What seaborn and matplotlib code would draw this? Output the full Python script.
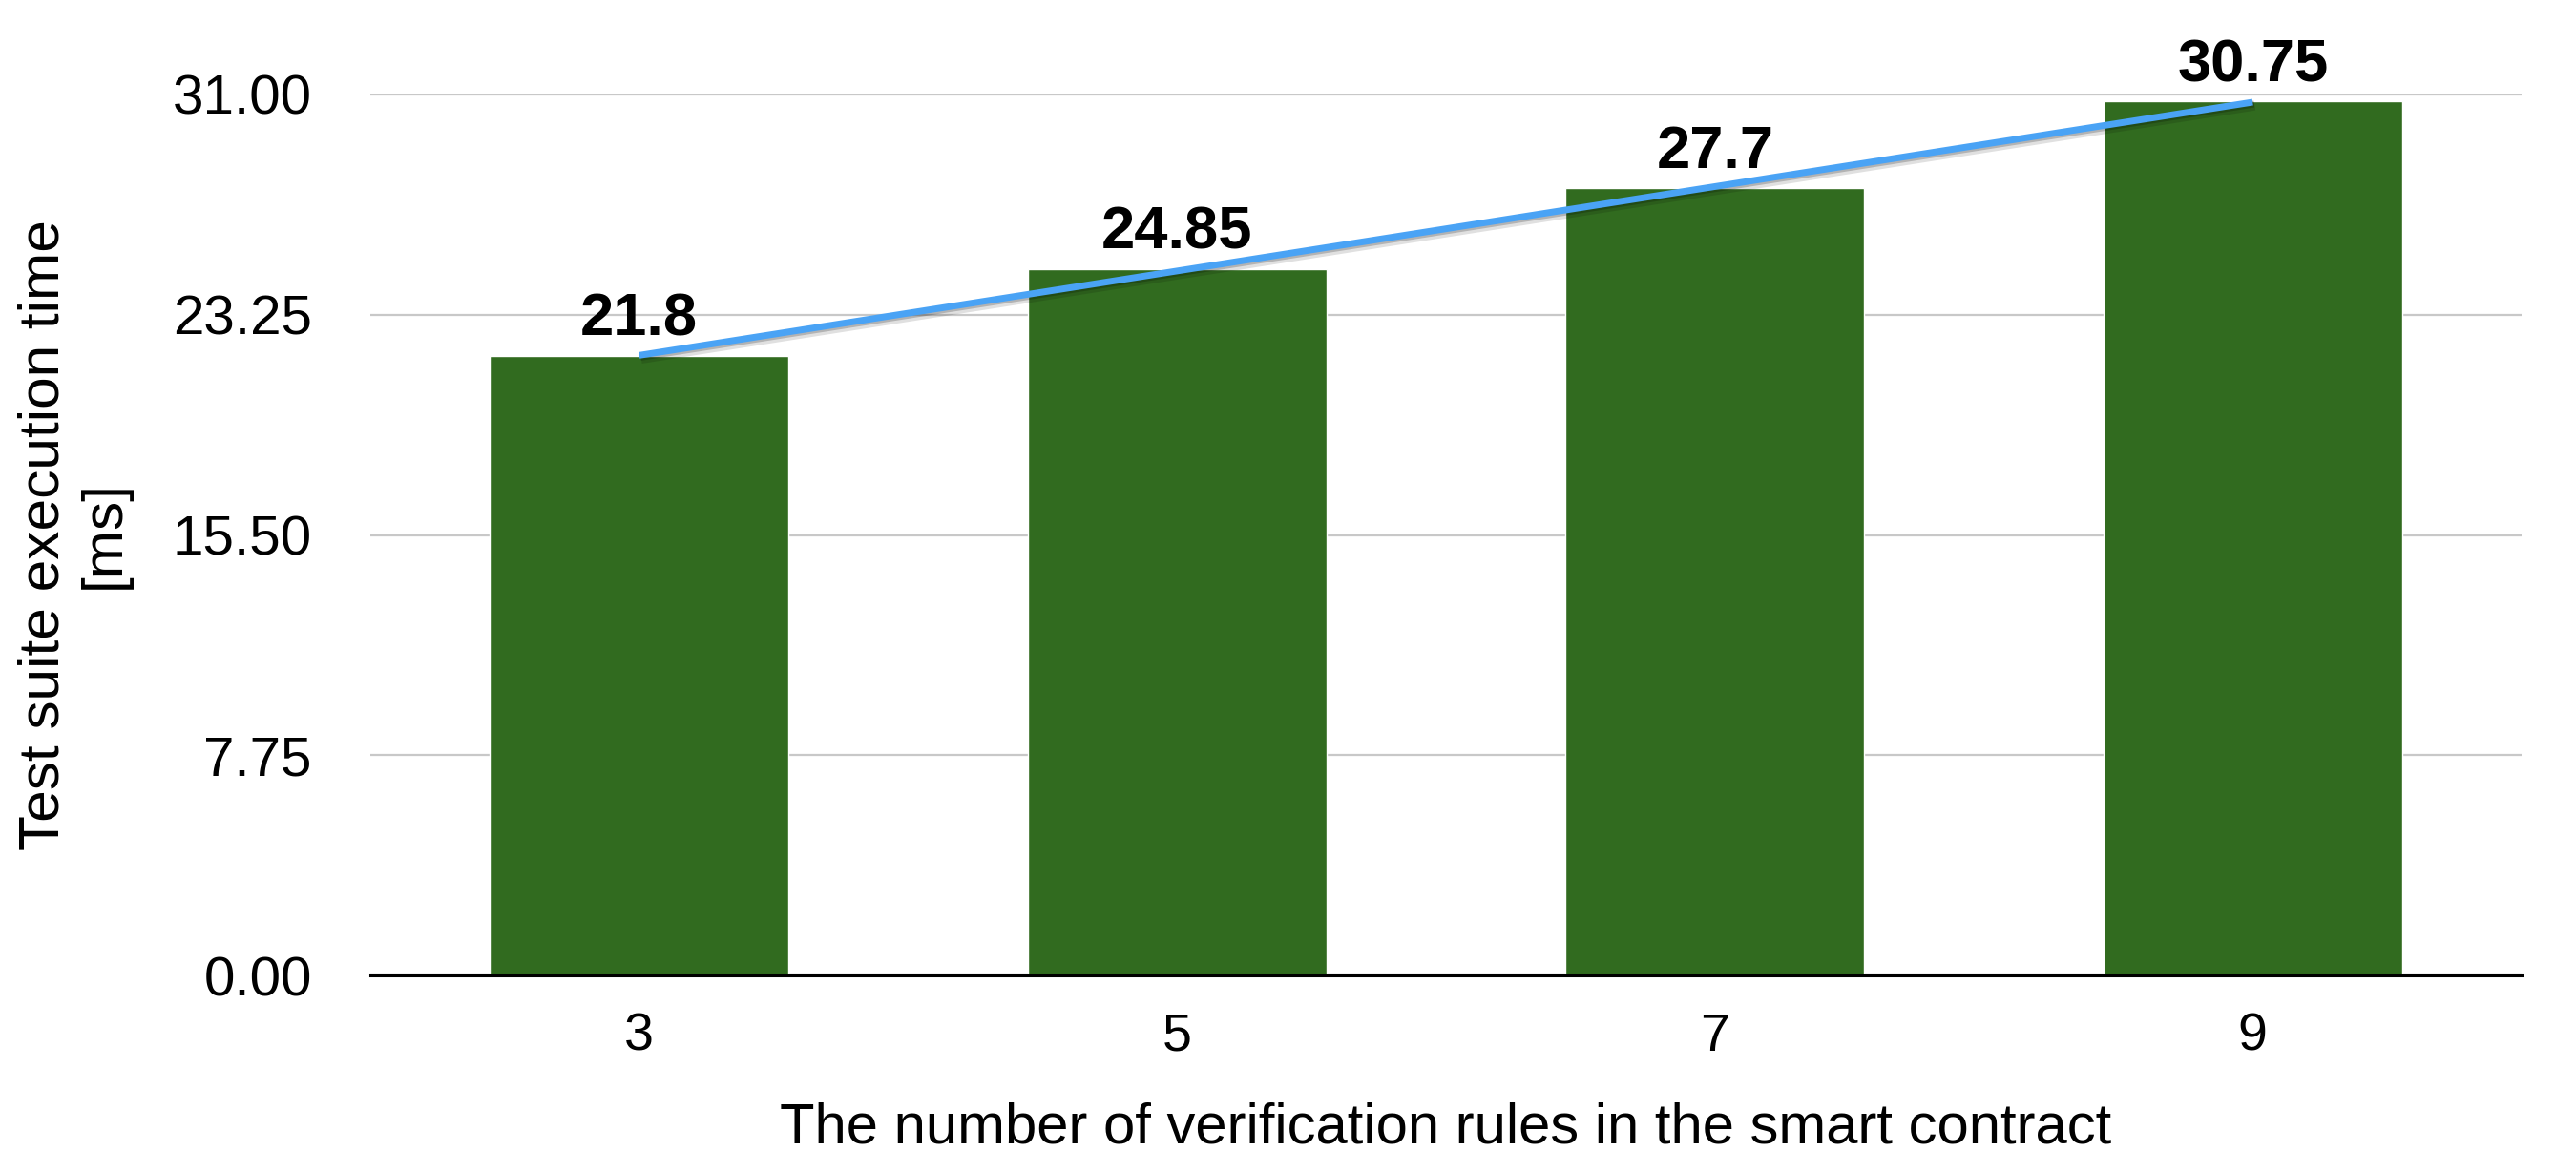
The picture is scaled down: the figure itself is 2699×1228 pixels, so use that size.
import matplotlib
matplotlib.use("Agg")
import matplotlib.pyplot as plt
import matplotlib.patheffects as pe
import numpy as np
import pandas as pd
import seaborn as sns

# ---- data ----
rules = ["3", "5", "7", "9"]
exec_time_ms = [21.8, 24.85, 27.7, 30.75]
y_ticks = [0.0, 7.75, 15.5, 23.25, 31.0]

x_label = "The number of verification rules in the smart contract"
y_label = "Test suite execution time\n[ms]"

bar_color = "#316b1f"
line_color = "#4aa3f5"

sns.set_theme(style="white")
plt.rcParams["font.family"] = ["Liberation Sans", "DejaVu Sans"]

df = pd.DataFrame({"rules": rules, "time": exec_time_ms})

fig = plt.figure(figsize=(26.99, 12.28), dpi=100)
ax = fig.add_axes([388 / 2699, 1 - 1022 / 1228, (2642 - 388) / 2699, (1022 - 99) / 1228])

sns.barplot(data=df, x="rules", y="time", order=rules, color=bar_color,
            saturation=1, width=0.555, ax=ax, zorder=2)

# linear trend line over the category positions
pos = np.arange(len(rules))
sns.regplot(x=pos, y=np.array(exec_time_ms), ci=None, scatter=False, ax=ax,
            line_kws=dict(color=line_color, linewidth=5.0, zorder=4, solid_capstyle="butt",
                          path_effects=[pe.SimpleLineShadow(offset=(1.5, -2.5), shadow_color="black",
                                                            alpha=0.12, linewidth=7.5),
                                        pe.SimpleLineShadow(offset=(1.0, -1.5), shadow_color="black",
                                                            alpha=0.2),
                                        pe.Normal()]))

# value labels
for c in ax.containers:
    ax.bar_label(c, labels=[f"{v:g}" for v in exec_time_ms], padding=6,
                 fontsize=45.5, fontweight="bold", color="black")

ax.set_xlim(-0.5, len(rules) - 0.5)
ax.set_ylim(0, 31)
ax.set_yticks(y_ticks)
ax.set_yticklabels([f"{t:.2f}" for t in y_ticks])
ax.yaxis.grid(True, color="#c8c8c8", lw=1.6)
ax.set_axisbelow(True)

for s in ["top", "right", "left"]:
    ax.spines[s].set_visible(False)
ax.spines["bottom"].set_color("black")
ax.spines["bottom"].set_linewidth(2.2)
ax.spines["bottom"].set_zorder(5)

ax.tick_params(axis="y", length=0, pad=44, labelsize=42, labelcolor="black")
ax.tick_params(axis="x", length=0, pad=28, labelsize=40, labelcolor="black")

ax.set_xlabel(x_label, fontsize=43, color="black", labelpad=30)
ax.set_ylabel(y_label, fontsize=43.5, color="black", linespacing=1.2)
ax.yaxis.set_label_coords((137 - 388) / 2254, 0.5)

fig.savefig("out.png", dpi=100, facecolor="white")
